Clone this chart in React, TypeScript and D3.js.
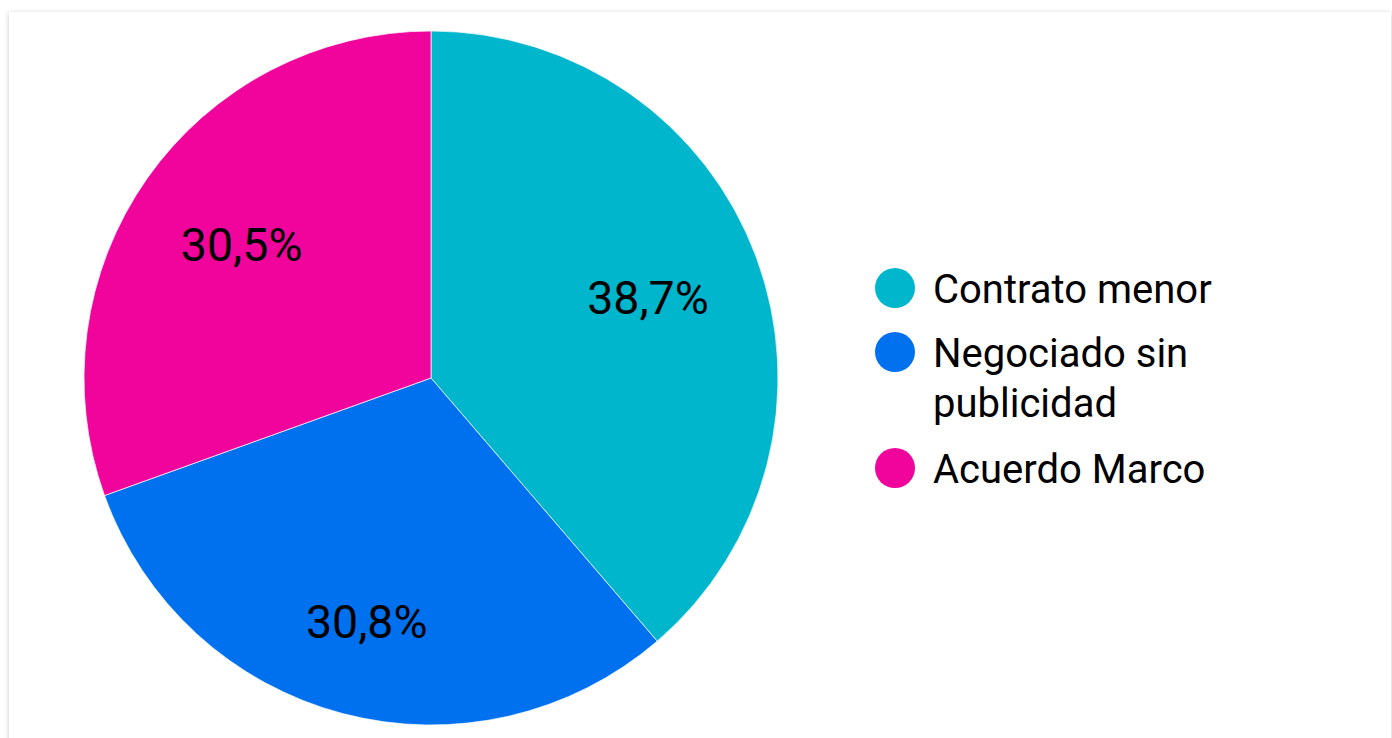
import React from "react";
import * as d3 from "d3";

const categories = ["Contrato menor", "Negociado sin publicidad", "Acuerdo Marco"];
const values = [38.7, 30.8, 30.5];
const valueLabels = ["38,7%", "30,8%", "30,5%"];
const legendLines = [["Contrato menor"], ["Negociado sin", "publicidad"], ["Acuerdo Marco"]];
const colors = ["#00B6CC", "#0071EE", "#F0049B"];
const labelRadiusFactor = [0.667, 0.727, 0.667];

const W = 1392;
const H = 738;

export default function App() {
  const cx = 431;
  const cy = 378;
  const r = 347;
  const pie = d3.pie<number>().sort(null).value((d) => d);
  const arcs = pie(values);
  const arcGen = d3.arc<d3.PieArcDatum<number>>().innerRadius(0).outerRadius(r);

  const legendX = 895;
  const legendTextX = 933;
  const legendY = d3.scaleOrdinal<string, number>().domain(categories).range([288, 352, 468]);
  const fontFamily = "Roboto, 'Noto Sans', sans-serif";

  return (
    <svg width={W} height={H} style={{ position: "absolute", left: 0, top: 0, fontFamily }}>
      <defs>
        <filter id="shadow" x="-5%" y="-5%" width="110%" height="110%">
          <feDropShadow dx="0" dy="1" stdDeviation="2.5" floodColor="#000" floodOpacity="0.22" />
        </filter>
      </defs>
      <rect x={0} y={0} width={W} height={H} fill="#ffffff" />
      <rect x={9} y={12} width={1382} height={760} fill="#ffffff" filter="url(#shadow)" />
      <g transform={`translate(${cx},${cy})`}>
        {arcs.map((a, i) => (
          <path key={i} d={arcGen(a) || ""} fill={colors[i]} stroke="#ffffff" strokeWidth={0.7} />
        ))}
        {arcs.map((a, i) => {
          const lr = r * labelRadiusFactor[i];
          const c = d3.arc<d3.PieArcDatum<number>>().innerRadius(lr).outerRadius(lr).centroid(a);
          return (
            <text
              key={"l" + i}
              x={c[0]}
              y={c[1]}
              textAnchor="middle"
              dominantBaseline="central"
              fontSize={46.5}
              fill="#000"
            >
              {valueLabels[i]}
            </text>
          );
        })}
      </g>
      <g>
        {categories.map((cat, i) => {
          const y = legendY(cat);
          return (
            <g key={cat}>
              <circle cx={legendX} cy={y} r={20} fill={colors[i]} />
              {legendLines[i].map((line, j) => (
                <text key={j} x={legendTextX} y={y + 15 + j * 50} fontSize={40} fill="#000">
                  {line}
                </text>
              ))}
            </g>
          );
        })}
      </g>
    </svg>
  );
}
